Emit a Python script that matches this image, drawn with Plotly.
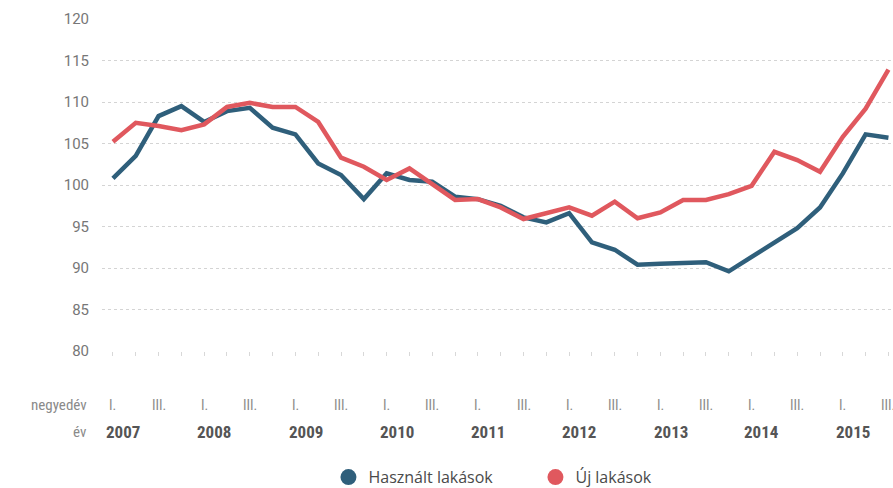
import plotly.graph_objects as go

years = ["2007", "2008", "2009", "2010", "2011", "2012", "2013", "2014", "2015"]
quarter_names = ["I.", "II.", "III.", "IV."]

hasznalt = [100.8, 103.5, 108.3, 109.5,
            107.6, 108.9, 109.3, 106.9,
            106.1, 102.6, 101.2, 98.3,
            101.4, 100.6, 100.4, 98.6,
            98.3, 97.5, 96.1, 95.5,
            96.6, 93.1, 92.2, 90.4,
            90.5, 90.6, 90.7, 89.6,
            91.3, 93.0, 94.8, 97.3,
            101.4, 106.1, 105.7]

uj = [105.2, 107.5, 107.1, 106.6,
      107.3, 109.4, 109.9, 109.4,
      109.4, 107.6, 103.3, 102.2,
      100.6, 102.0, 100.1, 98.2,
      98.3, 97.3, 95.9, 96.6,
      97.3, 96.3, 98.0, 96.0,
      96.7, 98.2, 98.2, 98.9,
      99.9, 104.0, 103.0, 101.6,
      105.8, 109.2, 113.9]

series_names = ["Használt lakások", "Új lakások"]
colors = ["#2f5f7b", "#e0585e"]

x = list(range(len(hasznalt)))

fig = go.Figure()
for name, vals, col in zip(series_names, [hasznalt, uj], colors):
    fig.add_trace(go.Scatter(x=x, y=vals, mode="lines", name=name,
                             line=dict(color=col, width=4.5), showlegend=False))
for name, col in zip(series_names, colors):
    fig.add_trace(go.Scatter(x=[None], y=[None], mode="markers", name=name,
                             marker=dict(color=col, size=18, symbol="circle")))

annotations = []
narrow = "Liberation Sans Narrow, Roboto Condensed, Arial Narrow, sans-serif"
q_y = -0.163
y_y = -0.244
for i in x:
    q = i % 4
    if q in (0, 2):
        annotations.append(dict(x=i, y=q_y, xref="x", yref="paper",
                                text=quarter_names[q], showarrow=False,
                                xanchor="center", yanchor="middle",
                                font=dict(family=narrow, size=14, color="#8a8a8a")))
for k, yr in enumerate(years):
    annotations.append(dict(x=4 * k + 0.45, y=y_y, xref="x", yref="paper",
                            text="<b>" + yr + "</b>", showarrow=False,
                            xanchor="center", yanchor="middle",
                            font=dict(family=narrow, size=17, color="#555555")))
annotations.append(dict(x=0, y=q_y, xref="paper", yref="paper", xshift=-13,
                        text="negyedév", showarrow=False, xanchor="right", yanchor="middle",
                        font=dict(family=narrow, size=15, color="#8a8a8a")))
annotations.append(dict(x=0, y=y_y, xref="paper", yref="paper", xshift=-13,
                        text="év", showarrow=False, xanchor="right", yanchor="middle",
                        font=dict(family=narrow, size=15, color="#8a8a8a")))

fig.update_layout(
    width=893, height=488,
    margin=dict(l=102, r=0, t=19, b=137, autoexpand=False),
    paper_bgcolor="white", plot_bgcolor="white",
    showlegend=True,
    legend=dict(orientation="h", x=0.548, xanchor="center", y=-0.38, yanchor="middle",
                font=dict(family="Open Sans, sans-serif", size=16, color="#4a4a4a"),
                itemsizing="trace", entrywidth=162, itemwidth=30),
    annotations=annotations,
    xaxis=dict(range=[-0.48, 34.2], showgrid=False, zeroline=False, showline=False,
               showticklabels=False, ticks="outside", ticklen=4, tickcolor="#d8d8d8",
               tickmode="linear", tick0=0, dtick=1, fixedrange=True),
    yaxis=dict(range=[80, 120], tickmode="linear", tick0=80, dtick=5,
               showgrid=True, gridcolor="#d4d4d4", griddash="dot", gridwidth=1,
               zeroline=False, showline=False, ticks="", ticklabelstandoff=12,
               tickfont=dict(family="Roboto, sans-serif", size=15, color="#777777")),
)

fig.write_html("out.html")
